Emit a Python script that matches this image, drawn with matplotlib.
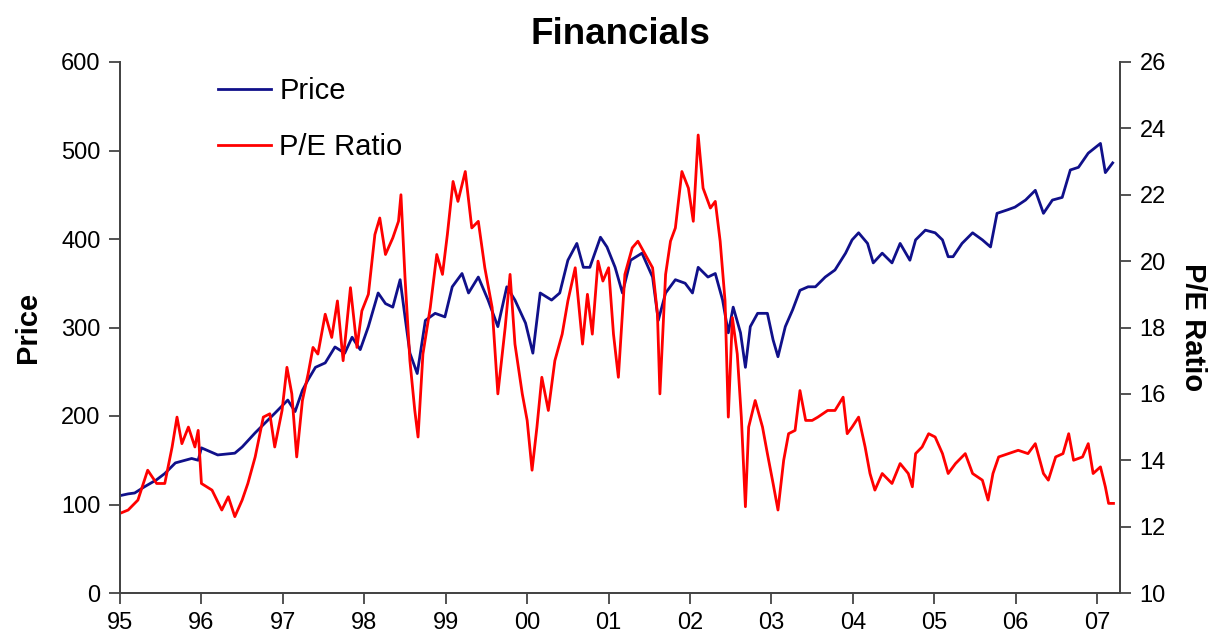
import matplotlib
matplotlib.use('Agg')
import matplotlib.pyplot as plt
from matplotlib.lines import Line2D

plt.rcParams['font.family'] = ['Liberation Sans', 'DejaVu Sans']

# --- Data ---
price_years = [
    1995.00, 1995.10, 1995.18, 1995.30, 1995.45, 1995.55, 1995.68, 1995.88, 1995.96,
    1996.00, 1996.20, 1996.41, 1996.50, 1996.66, 1996.78, 1996.90, 1997.06, 1997.15,
    1997.24, 1997.31, 1997.40, 1997.52, 1997.64, 1997.76, 1997.85, 1997.95, 1998.05,
    1998.17, 1998.26, 1998.35, 1998.44, 1998.50, 1998.56, 1998.65, 1998.75, 1998.87,
    1998.99, 1999.08, 1999.20, 1999.28, 1999.40, 1999.52, 1999.64, 1999.75, 1999.85,
    1999.98, 2000.07, 2000.16, 2000.30, 2000.40, 2000.50, 2000.61, 2000.69, 2000.77,
    2000.90, 2000.98, 2001.08, 2001.17, 2001.27, 2001.41, 2001.54, 2001.61, 2001.70,
    2001.82, 2001.94, 2002.03, 2002.10, 2002.22, 2002.31, 2002.40, 2002.47, 2002.53,
    2002.62, 2002.68, 2002.74, 2002.83, 2002.95, 2003.02, 2003.08, 2003.17, 2003.26,
    2003.35, 2003.45, 2003.54, 2003.66, 2003.78, 2003.91, 2003.99, 2004.07, 2004.18,
    2004.25, 2004.36, 2004.48, 2004.58, 2004.70, 2004.77, 2004.89, 2005.01, 2005.10,
    2005.17, 2005.23, 2005.34, 2005.47, 2005.59, 2005.69, 2005.77, 2005.90, 2005.99,
    2006.12, 2006.24, 2006.34, 2006.45, 2006.57, 2006.67, 2006.77, 2006.89, 2007.04,
    2007.10, 2007.19,
]
price = [
    110, 112, 113, 120, 128, 135, 147, 152, 150,
    164, 156, 158, 165, 181, 192, 203, 218, 205,
    229, 241, 255, 260, 278, 271, 289, 275, 301,
    339, 327, 323, 354, 312, 271, 248, 308, 316,
    312, 346, 361, 339, 357, 331, 301, 346, 331,
    305, 271, 339, 331, 339, 376, 395, 368, 368,
    402, 391, 368, 339, 376, 384, 357, 308, 339,
    354, 350, 339, 368, 357, 361, 331, 294, 323,
    294, 255, 301, 316, 316, 286, 267, 301, 320,
    342, 346, 346, 357, 365, 384, 399, 407, 395,
    373, 384, 373, 395, 376, 399, 410, 407, 399,
    380, 380, 395, 407, 399, 391, 429, 433, 436,
    444, 455, 429, 444, 447, 478, 481, 497, 508,
    475, 486,
]

pe_years = [
    1995.00, 1995.10, 1995.22, 1995.34, 1995.45, 1995.55, 1995.64, 1995.70, 1995.76,
    1995.84, 1995.92, 1995.96, 1996.00, 1996.13, 1996.25, 1996.33, 1996.41, 1996.50,
    1996.57, 1996.66, 1996.76, 1996.84, 1996.90, 1996.99, 1997.05, 1997.11, 1997.17,
    1997.24, 1997.31, 1997.37, 1997.43, 1997.52, 1997.60, 1997.67, 1997.74, 1997.83,
    1997.91, 1997.97, 1998.05, 1998.13, 1998.19, 1998.26, 1998.35, 1998.42, 1998.45,
    1998.50, 1998.56, 1998.62, 1998.66, 1998.72, 1998.81, 1998.89, 1998.96, 1999.02,
    1999.09, 1999.15, 1999.24, 1999.32, 1999.40, 1999.48, 1999.57, 1999.64, 1999.73,
    1999.79, 1999.85, 1999.94, 2000.00, 2000.06, 2000.12, 2000.18, 2000.26, 2000.34,
    2000.43, 2000.50, 2000.59, 2000.68, 2000.74, 2000.80, 2000.87, 2000.93, 2001.00,
    2001.06, 2001.12, 2001.20, 2001.29, 2001.36, 2001.45, 2001.54, 2001.60, 2001.63,
    2001.70, 2001.76, 2001.82, 2001.90, 2001.98, 2002.04, 2002.10, 2002.16, 2002.25,
    2002.31, 2002.37, 2002.43, 2002.47, 2002.52, 2002.58, 2002.63, 2002.68, 2002.72,
    2002.80, 2002.89, 2002.95, 2003.02, 2003.08, 2003.15, 2003.21, 2003.29, 2003.35,
    2003.42, 2003.50, 2003.57, 2003.69, 2003.78, 2003.88, 2003.93, 2003.99, 2004.07,
    2004.15, 2004.21, 2004.27, 2004.36, 2004.48, 2004.58, 2004.68, 2004.73, 2004.77,
    2004.85, 2004.93, 2005.01, 2005.10, 2005.17, 2005.26, 2005.38, 2005.47, 2005.59,
    2005.66, 2005.72, 2005.79, 2005.91, 2006.03, 2006.15, 2006.24, 2006.34, 2006.40,
    2006.49, 2006.58, 2006.65, 2006.71, 2006.82, 2006.89, 2006.95, 2007.04, 2007.10,
    2007.14, 2007.20,
]
pe_ratio = [
    12.4, 12.5, 12.8, 13.7, 13.3, 13.3, 14.4, 15.3, 14.5,
    15.0, 14.4, 14.9, 13.3, 13.1, 12.5, 12.9, 12.3, 12.8,
    13.3, 14.1, 15.3, 15.4, 14.4, 15.5, 16.8, 16.0, 14.1,
    15.8, 16.6, 17.4, 17.2, 18.4, 17.7, 18.8, 17.0, 19.2,
    17.4, 18.5, 19.0, 20.8, 21.3, 20.2, 20.7, 21.2, 22.0,
    19.5, 17.0, 15.5, 14.7, 17.2, 18.6, 20.2, 19.6, 20.8,
    22.4, 21.8, 22.7, 21.0, 21.2, 19.8, 18.6, 16.0, 18.0,
    19.6, 17.5, 16.0, 15.2, 13.7, 15.0, 16.5, 15.5, 17.0,
    17.8, 18.8, 19.8, 17.5, 19.0, 17.8, 20.0, 19.4, 19.8,
    17.8, 16.5, 19.6, 20.4, 20.6, 20.2, 19.8, 18.4, 16.0,
    19.6, 20.6, 21.0, 22.7, 22.2, 21.2, 23.8, 22.2, 21.6,
    21.8, 20.6, 18.8, 15.3, 18.3, 17.2, 15.3, 12.6, 15.0,
    15.8, 15.0, 14.2, 13.3, 12.5, 14.0, 14.8, 14.9, 16.1,
    15.2, 15.2, 15.3, 15.5, 15.5, 15.9, 14.8, 15.0, 15.3,
    14.4, 13.6, 13.1, 13.6, 13.3, 13.9, 13.6, 13.2, 14.2,
    14.4, 14.8, 14.7, 14.2, 13.6, 13.9, 14.2, 13.6, 13.4,
    12.8, 13.6, 14.1, 14.2, 14.3, 14.2, 14.5, 13.6, 13.4,
    14.1, 14.2, 14.8, 14.0, 14.1, 14.5, 13.6, 13.8, 13.2,
    12.7, 12.7,
]

year_ticks = list(range(1995, 2008))
year_labels = ['95', '96', '97', '98', '99', '00', '01', '02', '03', '04', '05', '06', '07']

# --- Figure ---
fig = plt.figure(figsize=(12.17, 6.41), dpi=100)
ax = fig.add_axes([120 / 1217, 48 / 641, 1000 / 1217, 531 / 641])
ax2 = ax.twinx()

blue = '#10108a'
red = '#ff0000'
ax.plot(price_years, price, color=blue, lw=2.0)
ax2.plot(pe_years, pe_ratio, color=red, lw=2.0)

ax.set_xlim(1995, 2007.28)
ax.set_ylim(0, 600)
ax2.set_ylim(10, 26)
ax.set_yticks(range(0, 601, 100))
ax2.set_yticks(range(10, 27, 2))
ax.set_xticks(year_ticks)
ax.set_xticklabels(year_labels)

spine_col = '#444444'
for a in (ax, ax2):
    a.spines['top'].set_visible(False)
    for s in ('left', 'right', 'bottom'):
        a.spines[s].set_color(spine_col)
        a.spines[s].set_linewidth(1.3)
    a.tick_params(direction='out', length=8, width=1.3, color=spine_col,
                  labelsize=17, pad=6)

ax.set_ylabel('Price', fontsize=21, fontweight='bold', labelpad=14)
ax2.set_ylabel('P/E Ratio', fontsize=21, fontweight='bold', rotation=-90, labelpad=30)
ax.set_title('Financials', fontsize=26.5, fontweight='bold', pad=13)

handles = [Line2D([], [], color=blue, lw=2.0), Line2D([], [], color=red, lw=2.0)]
fig.legend(handles, ['Price', 'P/E Ratio'], loc='upper left',
           bbox_to_anchor=(218 / 1217, 1 - 77 / 641), frameon=False,
           fontsize=21, handlelength=1.8, handletextpad=0.3, labelspacing=0.97,
           borderpad=0, borderaxespad=0)

fig.savefig('out.png', dpi=100)
